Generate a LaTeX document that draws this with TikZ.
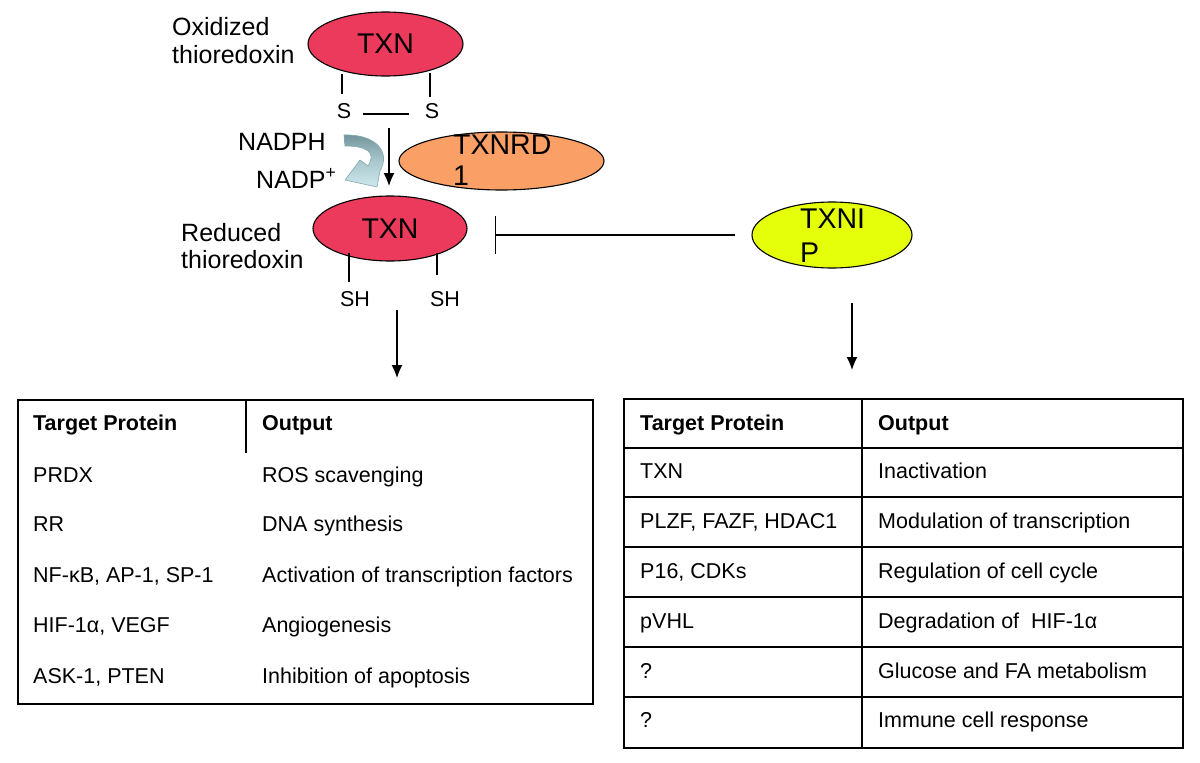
\documentclass[tikz,border=0pt]{standalone}
\usepackage{fontspec}
\setmainfont{Liberation Sans}
\usetikzlibrary{shapes.geometric,arrows.meta}
\definecolor{txnred}{RGB}{236,58,92}
\definecolor{rdorange}{RGB}{250,160,102}
\definecolor{ipyellow}{RGB}{229,255,10}
\definecolor{arrdark}{RGB}{112,148,154}
\definecolor{arrlight}{RGB}{206,233,237}
\definecolor{arredge}{RGB}{130,168,174}
\begin{document}
\begin{tikzpicture}[x=1pt,y=-1pt,
  prot/.style={ellipse, draw=black, line width=1.1pt, inner sep=0pt},
  lbl/.style={anchor=base west, inner sep=0pt, font=\fontsize{25}{30}\selectfont},
  big/.style={anchor=base west, inner sep=0pt, font=\fontsize{28.5}{34}\selectfont},
  sl/.style={anchor=base, inner sep=0pt, font=\fontsize{21.5}{26}\selectfont},
  cell/.style={anchor=base west, inner sep=0pt, font=\fontsize{21.5}{25}\selectfont},
  arr/.style={-{Latex[length=13pt,width=11pt]}, line width=1.3pt},
  thin/.style={line width=1.3pt},
  tab/.style={draw=black, line width=1.7pt, inner sep=0pt, anchor=north west}
]
\useasboundingbox (0,0) rectangle (1200,763);

% ---------- oxidized thioredoxin ----------
\node[prot, fill=txnred, minimum width=155pt, minimum height=64pt,
      font=\fontsize{28.5}{34}\selectfont] (txnox) at (385.5,44) {TXN};
\node[lbl] (oxa) at (172,35) {Oxidized};
\node[lbl] (oxb) at (172,63) {thioredoxin};
\coordinate (ls1) at (342,74); \coordinate (ls2) at (342,94);
\coordinate (rs1) at (430,73); \coordinate (rs2) at (430,97);
\draw[thin] (ls1) -- (ls2);
\draw[thin] (rs1) -- (rs2);
\node[sl] (s1) at (344,118) {S};
\node[sl] (s2) at (432,118) {S};
\coordinate (ss1) at (363,114); \coordinate (ss2) at (409,114);
\draw[thin] (ss1) -- (ss2);

% ---------- reduction step ----------
\coordinate (ra1) at (389,128); \coordinate (ra2) at (389,186);
\draw[arr] (ra1) -- (ra2);
\node[lbl] (nadph) at (238,150) {NADPH};
\node[lbl] (nadp) at (256,188) {NADP\textsuperscript{+}};
\path[top color=arrdark, bottom color=arrlight, middle color=arrdark!40!arrlight,
      draw=arredge, line width=0.6pt]
  (344,135) .. controls (376,134) and (391,152) .. (380,171)
  -- (377,187) -- (345,180) -- (360,160) -- (368,166)
  .. controls (377,152) and (366,146) .. (345,146) -- cycle;

\node[prot, fill=rdorange, minimum width=205pt, minimum height=58pt] (txnrd) at (501.5,161) {};
\node[big] (rdt1) at (453,154) {TXNRD};
\node[big] (rdt2) at (453,185) {1};

% ---------- reduced thioredoxin ----------
\node[prot, fill=txnred, minimum width=154pt, minimum height=65pt,
      font=\fontsize{28.5}{34}\selectfont] (txnred) at (390,228.5) {TXN};
\node[lbl] (rda) at (181,241) {Reduced};
\node[lbl] (rdb) at (181,268) {thioredoxin};
\coordinate (lh1) at (349,253); \coordinate (lh2) at (349,282);
\coordinate (rh1) at (437,253); \coordinate (rh2) at (437,275);
\draw[thin] (lh1) -- (lh2);
\draw[thin] (rh1) -- (rh2);
\node[sl] (sh1) at (355,306) {SH};
\node[sl] (sh2) at (445,306) {SH};

% ---------- TXNIP ----------
\node[prot, fill=ipyellow, minimum width=160pt, minimum height=66pt] (txnip) at (832,235) {};
\node[big] (ipt1) at (800,228) {TXNI};
\node[big] (ipt2) at (800,262) {P};
\coordinate (inhsrc) at (735,235); \coordinate (inhbar) at (495,235);
\draw[thin, -{Bar[width=38pt,line width=1.3pt]}] (inhsrc) -- (inhbar);

% ---------- arrows to tables ----------
\coordinate (la1) at (397,310); \coordinate (la2) at (397,378);
\draw[arr] (la1) -- (la2);
\coordinate (ra3) at (852,303); \coordinate (ra4) at (852,370);
\draw[arr] (ra3) -- (ra4);

% ---------- left table ----------
\node[tab, minimum width=575pt, minimum height=304pt] (ltab) at (17,399) {};
\coordinate (lv1) at (246,399); \coordinate (lv2) at (246,453);
\draw[line width=1.5pt] (lv1) -- (lv2);
\node[cell] (l00) at (33,430) {\textbf{Target Protein}};
\node[cell] (l01) at (262,430) {\textbf{Output}};
\node[cell] (l10) at (33,482) {PRDX};
\node[cell] (l11) at (262,482) {ROS scavenging};
\node[cell] (l20) at (33,531) {RR};
\node[cell] (l21) at (262,531) {DNA synthesis};
\node[cell] (l30) at (33,582) {NF-κB, AP-1, SP-1};
\node[cell] (l31) at (262,582) {Activation of transcription factors};
\node[cell] (l40) at (33,632) {HIF-1α, VEGF};
\node[cell] (l41) at (262,632) {Angiogenesis};
\node[cell] (l50) at (33,683) {ASK-1, PTEN};
\node[cell] (l51) at (262,683) {Inhibition of apoptosis};

% ---------- right table ----------
\node[tab, minimum width=559pt, minimum height=349pt] (rtab) at (623,398) {};
\coordinate (rv1) at (862,398); \coordinate (rv2) at (862,747);
\draw[line width=1.7pt] (rv1) -- (rv2);
\foreach \yy/\nm in {448/a,497/b,547/c,597/d,647/e,697/f}{
  \coordinate (rr\nm1) at (623,\yy); \coordinate (rr\nm2) at (1182,\yy);
  \draw[line width=1.7pt] (rr\nm1) -- (rr\nm2);
}
\node[cell] (r00) at (640,430) {\textbf{Target Protein}};
\node[cell] (r01) at (878,430) {\textbf{Output}};
\node[cell] (r10) at (640,478) {TXN};
\node[cell] (r11) at (878,478) {Inactivation};
\node[cell] (r20) at (640,528) {PLZF, FAZF, HDAC1};
\node[cell] (r21) at (878,528) {Modulation of transcription};
\node[cell] (r30) at (640,578) {P16, CDKs};
\node[cell] (r31) at (878,578) {Regulation of cell cycle};
\node[cell] (r40) at (640,628) {pVHL};
\node[cell] (r41) at (878,628) {Degradation of\ \ HIF-1α};
\node[cell] (r50) at (640,678) {?};
\node[cell] (r51) at (878,678) {Glucose and FA metabolism};
\node[cell] (r60) at (640,727) {?};
\node[cell] (r61) at (878,727) {Immune cell response};
\end{tikzpicture}
\end{document}
